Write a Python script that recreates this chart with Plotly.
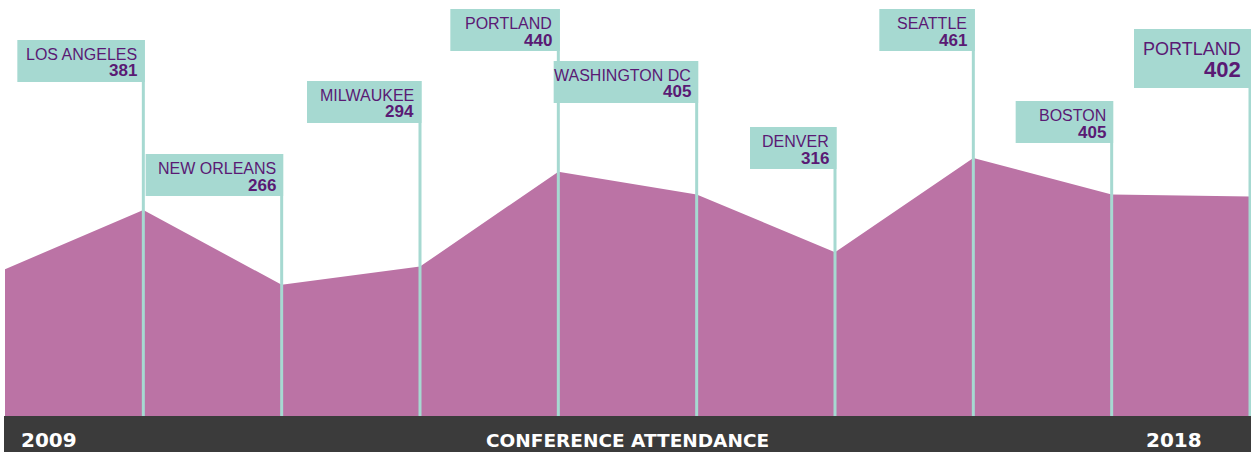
import plotly.graph_objects as go

# ---- data ----
years = [2009, 2010, 2011, 2012, 2013, 2014, 2015, 2016, 2017, 2018]
cities = ["", "LOS ANGELES", "NEW ORLEANS", "MILWAUKEE", "PORTLAND",
          "WASHINGTON DC", "DENVER", "SEATTLE", "BOSTON", "PORTLAND"]
attendance = [290, 381, 266, 294, 440, 405, 316, 461, 405, 402]
title_text = "CONFERENCE ATTENDANCE"
start_label = "2009"
end_label = "2018"

# ---- layout constants (pixels) ----
W, H = 1251, 452
label_top = [None, 40, 154, 81, 9, 61, 127, 9, 101, 29]
label_w = [None, 126, 136, 113, 108, 143, 85, 94, 96, 116]
band_top = 416

TEAL = "#a6d9d1"
PURPLE = "#5a1a74"
AREA = "#bb73a5"
BAND = "#3b3b3b"
LABEL_FONT = "Liberation Sans, Arial, sans-serif"
BAND_FONT = "DejaVu Sans, sans-serif"


def yp(px):
    return 1 - px / H


fig = go.Figure()
fig.add_trace(go.Scatter(
    x=years, y=attendance, mode="lines", fill="tozeroy",
    fillcolor=AREA, line=dict(width=0, color=AREA), hoverinfo="x+y",
    showlegend=False))

shapes = []
annotations = []

# vertical stems
for i, yr in enumerate(years):
    if not cities[i]:
        continue
    shapes.append(dict(type="line", xref="x", yref="paper",
                       x0=yr, x1=yr, y0=yp(band_top), y1=yp(label_top[i]),
                       line=dict(color=TEAL, width=3), layer="above"))

# label boxes and texts
for i, yr in enumerate(years):
    if not cities[i]:
        continue
    big = i == len(years) - 1
    bh = 59 if big else 42
    top = label_top[i]
    shapes.append(dict(type="rect", xref="x", yref="paper",
                       xsizemode="pixel", xanchor=yr,
                       x0=-label_w[i], x1=1.5,
                       y0=yp(top + bh), y1=yp(top),
                       fillcolor=TEAL, line=dict(width=0), layer="above"))
    cs, ns = (18, 22) if big else (16, 17)
    cy, ny = (top + 20, top + 40.5) if big else (top + 14.3, top + 31)
    xs = -7 if big else -4
    annotations.append(dict(
        x=yr, y=yp(cy), xref="x", yref="paper", xanchor="right",
        yanchor="middle", xshift=xs, showarrow=False, text=cities[i],
        font=dict(family=LABEL_FONT, size=cs, color=PURPLE)))
    annotations.append(dict(
        x=yr, y=yp(ny), xref="x", yref="paper", xanchor="right",
        yanchor="middle", xshift=xs, showarrow=False,
        text="<b>%d</b>" % attendance[i],
        font=dict(family=LABEL_FONT, size=ns, color=PURPLE)))

# bottom band
shapes.append(dict(type="rect", xref="paper", yref="paper",
                   x0=4 / W, x1=1, y0=0, y1=yp(band_top),
                   fillcolor=BAND, line=dict(width=0), layer="above"))
band_font = dict(family=BAND_FONT, size=18.5, color="white")
year_font = dict(family=BAND_FONT, size=20, color="white")
annotations.append(dict(x=19 / W, y=yp(440), xref="paper", yref="paper",
                        xanchor="left", yanchor="middle", showarrow=False,
                        text="<b>%s</b>" % start_label, font=year_font))
annotations.append(dict(x=628 / W, y=yp(440), xref="paper", yref="paper",
                        xanchor="center", yanchor="middle", showarrow=False,
                        text="<b>%s</b>" % title_text, font=band_font))
annotations.append(dict(x=1204 / W, y=yp(440), xref="paper", yref="paper",
                        xanchor="right", yanchor="middle", showarrow=False,
                        text="<b>%s</b>" % end_label, font=year_font))

# x: 2009 at px 5, 2018 at px 1250 ; y: value v at px 457.7 - 0.65 v
step = (1250 - 5) / 9
x0 = 2009 - 5 / step
x1 = 2018 + 1 / step
yscale = 0.65
yzero = 457.7
ytop = yzero / yscale
ybot = (yzero - H) / yscale

fig.update_layout(
    width=W, height=H, margin=dict(l=0, r=0, t=0, b=0),
    paper_bgcolor="white", plot_bgcolor="white",
    xaxis=dict(range=[x0, x1], visible=False, fixedrange=True),
    yaxis=dict(range=[ybot, ytop], visible=False, fixedrange=True),
    shapes=shapes, annotations=annotations, showlegend=False)

fig.write_html(
    "out.html", config={"displayModeBar": False},
    post_script="document.body.style.margin='0';"
                "document.body.style.overflow='hidden';")
